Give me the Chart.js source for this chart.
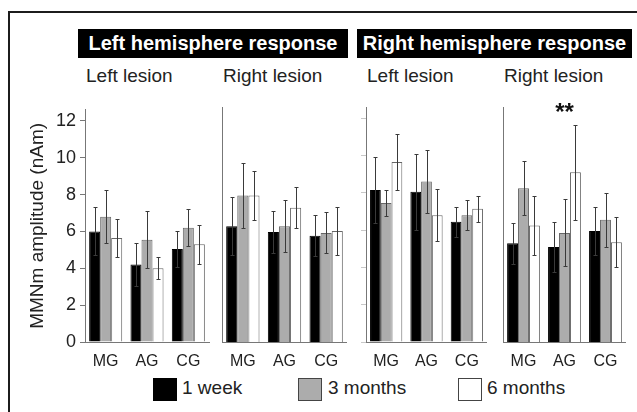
<!DOCTYPE html>
<html>
<head>
<meta charset="utf-8">
<script src="https://cdn.jsdelivr.net/npm/chart.js@4.4.0/dist/chart.umd.min.js"></script>
<style>
body { margin: 0; background: #fff; font-family: "Liberation Sans", Arial, sans-serif; }
#wrap { position: relative; width: 637px; height: 412px; overflow: hidden; }
.frame { position: absolute; left: 8px; top: 11px; width: 700px; height: 500px; border-top: 2px solid #1c1c1c; border-left: 2px solid #1c1c1c; }
.head { position: absolute; top: 29px; height: 29px; line-height: 29px; background: #000; color: #fff; font-weight: bold; font-size: 20px; text-align: center; white-space: nowrap; }
.sub { position: absolute; top: 65px; font-size: 19px; color: #222; white-space: nowrap; }
canvas { position: absolute; top: 95px; }
.sw { position: absolute; top: 378px; width: 22px; height: 21px; border: 1px solid #444; }
.kt { position: absolute; top: 377px; font-size: 19px; color: #222; white-space: nowrap; }
</style>
</head>
<body>
<div id="wrap">
  <div class="frame"></div>
  <div class="head" id="h0" style="left:78px;width:270px;"></div>
  <div class="head" id="h1" style="left:357px;width:275px;"></div>
  <div class="sub" id="s0" style="left:86px;"></div>
  <div class="sub" id="s1" style="left:223px;"></div>
  <div class="sub" id="s2" style="left:367px;"></div>
  <div class="sub" id="s3" style="left:504px;"></div>
  <canvas id="p0" width="210" height="275" style="left:0px;"></canvas>
  <canvas id="p1" width="135" height="275" style="left:212px;"></canvas>
  <canvas id="p2" width="131" height="275" style="left:356px;"></canvas>
  <canvas id="p3" width="133" height="275" style="left:493px;"></canvas>
  <div class="sw" style="left:153px;background:#000;border-color:#000;"></div>
  <div class="kt" id="k0" style="left:182px;"></div>
  <div class="sw" style="left:298px;background:#acacac;"></div>
  <div class="kt" id="k1" style="left:328px;"></div>
  <div class="sw" style="left:458px;background:#fff;"></div>
  <div class="kt" id="k2" style="left:487px;"></div>
</div>
<script>
// categories and labels
const groups = ['MG', 'AG', 'CG'];
const seriesNames = ['1 week', '3 months', '6 months'];
const hemispheres = ['Left hemisphere response', 'Right hemisphere response'];
const panelTitles = ['Left lesion', 'Right lesion', 'Left lesion', 'Right lesion'];
const yTicks = [0, 2, 4, 6, 8, 10, 12];

// values per panel, each [MG, AG, CG]
const week1 = [[6.0, 4.2, 5.05], [6.2, 5.9, 5.7], [8.15, 8.05, 6.45], [5.3, 5.1, 5.95]];
const week1Err = [[1.3, 1.15, 1.0], [1.55, 1.15, 1.1], [1.75, 2.05, 0.8], [1.1, 1.35, 1.3]];
const month3 = [[6.8, 5.55, 6.2], [7.85, 6.2, 5.85], [7.45, 8.6, 6.8], [8.25, 5.85, 6.55]];
const month3Err = [[1.45, 1.55, 1.0], [1.75, 1.4, 1.1], [0.7, 1.7, 0.8], [1.45, 1.8, 1.45]];
const month6 = [[5.65, 4.0, 5.3], [7.85, 7.2, 5.95], [9.65, 6.8, 7.15], [6.25, 9.1, 5.35]];
const month6Err = [[1.05, 0.6, 1.05], [1.3, 1.1, 1.3], [1.5, 1.4, 0.7], [1.6, 2.55, 1.35]];
const sigMarks = [['', '', ''], ['', '', ''], ['', '', ''], ['', '**', '']];

const FONT = '"Liberation Sans", Arial, sans-serif';

document.getElementById('h0').textContent = hemispheres[0];
document.getElementById('h1').textContent = hemispheres[1];
panelTitles.forEach((t, i) => { document.getElementById('s' + i).textContent = t; });
seriesNames.forEach((t, i) => { document.getElementById('k' + i).textContent = t; });

// draw whiskers on top of each bar
const errorBars = {
    id: 'errorBars',
    afterDatasetsDraw(chart) {
        const ctx = chart.ctx;
        const y = chart.scales.y;
        chart.data.datasets.forEach((ds, di) => {
            const meta = chart.getDatasetMeta(di);
            meta.data.forEach((bar, i) => {
                const v = ds.data[i], e = ds.errors[i];
                const top = Math.round(y.getPixelForValue(v + e)) + 0.5;
                const bot = Math.round(y.getPixelForValue(v - e)) + 0.5;
                const x = Math.round(bar.x) + 0.5;
                ctx.save();
                ctx.strokeStyle = '#3a3a3a';
                ctx.lineWidth = 1;
                ctx.beginPath();
                ctx.moveTo(x, top); ctx.lineTo(x, bot);
                ctx.moveTo(x - 2, top); ctx.lineTo(x + 2, top);
                ctx.moveTo(x - 2, bot); ctx.lineTo(x + 2, bot);
                ctx.stroke();
                ctx.restore();
            });
        });
    }
};

// significance stars above a group
const sigPlugin = {
    id: 'sig',
    afterDraw(chart) {
        const marks = chart.options.plugins.sig.marks;
        const ctx = chart.ctx;
        marks.forEach((m, i) => {
            if (!m) return;
            ctx.save();
            ctx.fillStyle = '#111';
            ctx.font = 'bold 24px ' + FONT;
            ctx.textAlign = 'center';
            ctx.textBaseline = 'middle';
            ctx.fillText(m, chart.scales.x.getPixelForValue(i), chart.scales.y.getPixelForValue(12.25));
            ctx.restore();
        });
    }
};

function makePanel(idx, yWidth, padRight, tickStyle) {
    const first = idx === 0;
    return new Chart(document.getElementById('p' + idx), {
        type: 'bar',
        data: {
            labels: groups,
            datasets: [
                { label: seriesNames[0], data: week1[idx], errors: week1Err[idx],
                  backgroundColor: '#000', borderColor: '#000', borderWidth: 1 },
                { label: seriesNames[1], data: month3[idx], errors: month3Err[idx],
                  backgroundColor: '#acacac', borderColor: '#666', borderWidth: 1 },
                { label: seriesNames[2], data: month6[idx], errors: month6Err[idx],
                  backgroundColor: '#fff', borderColor: '#666', borderWidth: 1 }
            ]
        },
        options: {
            responsive: false,
            animation: false,
            layout: { padding: { top: 12, right: padRight, left: 0, bottom: 0 } },
            datasets: { bar: { categoryPercentage: 0.8, barPercentage: 1.0 } },
            plugins: { legend: { display: false }, tooltip: { enabled: false }, sig: { marks: sigMarks[idx] } },
            scales: {
                x: {
                    type: 'category',
                    offset: true,
                    grid: { display: false },
                    border: { display: true, color: '#777', width: 1 },
                    ticks: { color: '#222', font: { family: FONT, size: 16 }, padding: 2, maxRotation: 0, autoSkip: false },
                    afterFit: s => { s.height = 28; }
                },
                y: {
                    min: 0,
                    max: 12.6,
                    afterBuildTicks: s => { s.ticks = yTicks.map(v => ({ value: v })); },
                    grid: { display: tickStyle !== null, drawOnChartArea: false, drawTicks: true,
                            tickLength: 5, color: tickStyle || '#777' },
                    border: { display: true, color: '#777', width: 1 },
                    ticks: { display: first, color: '#222', font: { family: FONT, size: 18 }, padding: 4 },
                    title: { display: first, text: 'MMNm amplitude (nAm)', color: '#222',
                             font: { family: FONT, size: 19 }, padding: { top: 26, bottom: 0 } },
                    afterFit: s => { s.width = yWidth; }
                }
            }
        },
        plugins: [errorBars, sigPlugin]
    });
}

makePanel(0, 85, 1, '#777');
makePanel(1, 10, 0, null);
makePanel(2, 10, 0, '#c8c8c8');
makePanel(3, 10, 0, null);
</script>
</body>
</html>
